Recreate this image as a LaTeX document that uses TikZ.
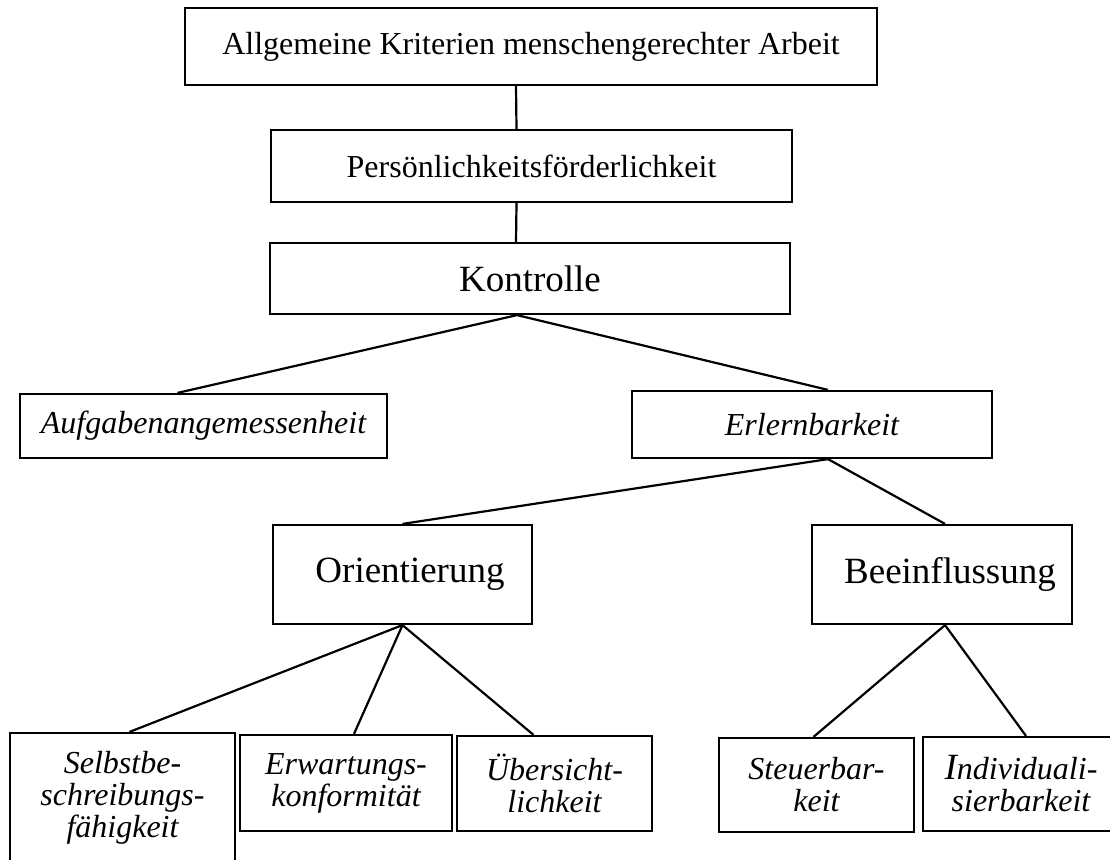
\documentclass[tikz,border=0pt]{standalone}
\usepackage{fontspec}
\setmainfont{Liberation Serif}
\usetikzlibrary{positioning}

\begin{document}
\begin{tikzpicture}[x=1pt, y=-1pt, line width=2.2pt,
    every node/.style={rectangle, draw, inner sep=2pt, align=center, font=\fontsize{32}{32}\selectfont},
    big/.style={font=\fontsize{37}{37}\selectfont},
    crit/.style={font=\fontsize{32}{32}\selectfont\itshape}]
    \useasboundingbox (0,0) rectangle (1110,859);
    \clip (0,0) rectangle (1110,859);

    \node[minimum width=692, minimum height=77] (allg) at (531,46.5) {Allgemeine Kriterien menschengerechter Arbeit};
    \node[minimum width=521, minimum height=72] (pers) at (531.5,166) {Persönlichkeitsförderlichkeit};
    \node[big, minimum width=520, minimum height=71] (kontr) at (530,278.5) {Kontrolle};

    \node[crit, minimum width=367, minimum height=64] (aufg) at (203.5,426) {Aufgabenangemessenheit};
    \node[crit, minimum width=360, minimum height=67] (erlern) at (812,424.5) {Erlernbarkeit};

    \node[big, minimum width=259, minimum height=99] (orient) at (402.5,574.5) {\hspace*{15pt}Orientierung};
    \node[big, minimum width=260, minimum height=99] (beein) at (942,574.5) {\hspace*{16pt}Beeinflussung};

    % Kriterien der untersten Ebene
    \node[crit, minimum width=225, minimum height=130] (selbst) at (122.5,798) {Selbstbe-\\schreibungs-\\fähigkeit};
    \node[crit, minimum width=212, minimum height=96] (erwart) at (346,783) {Erwartungs-\\konformität};
    \node[crit, minimum width=195, minimum height=95] (uebers) at (554.5,783.5) {Übersicht-\\lichkeit};
    \node[crit, minimum width=195, minimum height=94] (steuer) at (816.5,785) {Steuerbar-\\keit};
    \node[crit, minimum width=196, minimum height=94] (indiv) at (1021,784) {{\fontsize{37}{32}\selectfont I}ndividuali-\\sierbarkeit};

    \draw ([xshift=-15pt]allg.south) -- ([xshift=-15pt]pers.north);
    \draw ([xshift=-15pt]pers.south) -- ([xshift=-14pt]kontr.north);
    \draw ([xshift=-13pt]kontr.south) -- ([xshift=-26pt]aufg.north);
    \draw ([xshift=-13pt]kontr.south) -- ([xshift=16pt]erlern.north);
    \draw ([xshift=16pt]erlern.south) -- (orient.north);
    \draw ([xshift=16pt]erlern.south) -- ([xshift=3pt]beein.north);
    \draw (orient.south) -- ([xshift=7pt]selbst.north);
    \draw (orient.south) -- ([xshift=8pt]erwart.north);
    \draw (orient.south) -- ([xshift=-21pt]uebers.north);
    \draw ([xshift=3pt]beein.south) -- ([xshift=-3pt]steuer.north);
    \draw ([xshift=3pt]beein.south) -- ([xshift=5pt]indiv.north);
\end{tikzpicture}
\end{document}
